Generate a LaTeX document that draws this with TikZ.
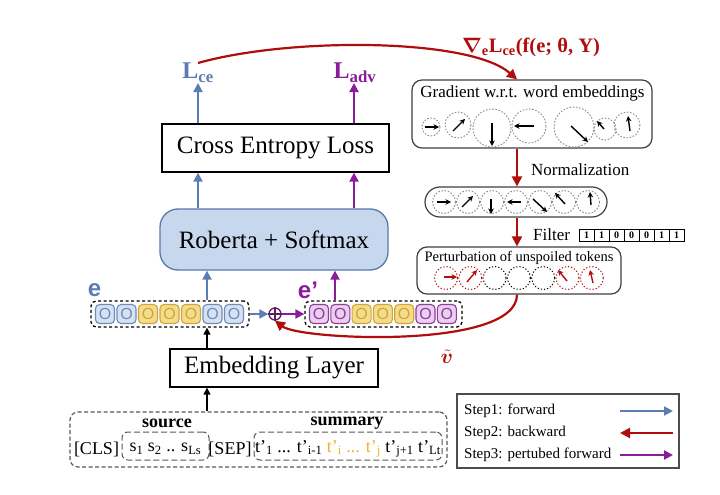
\documentclass[tikz,border=0pt]{standalone}
\usepackage{bm}
\usepackage{fontspec}
\setmainfont{Liberation Serif}
\setsansfont{Liberation Sans}
\usetikzlibrary{arrows.meta,calc}
\definecolor{cblue}{HTML}{5A7DB3}
\definecolor{cpurp}{HTML}{8A1B9B}
\definecolor{cred}{HTML}{B00D0D}
\definecolor{robfill}{HTML}{C7D8EE}
\definecolor{robdraw}{HTML}{5B79A8}
\definecolor{tbfill}{HTML}{D6E2F2}
\definecolor{tbdraw}{HTML}{6F8CB9}
\definecolor{tyfill}{HTML}{F5DC8C}
\definecolor{tydraw}{HTML}{CFA63A}
\definecolor{tpfill}{HTML}{EBCFF0}
\definecolor{tpdraw}{HTML}{8F3E9A}
\definecolor{gold}{HTML}{EBB62C}
\definecolor{opc}{HTML}{5E1B60}
\definecolor{gcirc}{HTML}{8C8C8C}
\newcommand\myfs[1]{\fontsize{#1}{#1}\selectfont}
\newcommand\gradlabel{$\bm{\nabla}$\textsubscript{e}L\textsubscript{ce}(f(e; θ, Y)}
\newcommand\vtlabel{$\tilde{\bm{v}}$}
\begin{document}
\begin{tikzpicture}[x=1pt,y=-1pt,
  lbl/.style={inner sep=0pt},
  plainbox/.style={draw=black, line width=1.3pt, fill=white, inner sep=0pt, font=\myfs{25}},
  robbox/.style={draw=robdraw, line width=1.3pt, fill=robfill, rounded corners=18pt, inner sep=0pt, font=\myfs{25}},
  dbox/.style={draw=black, line width=1.3pt, dash pattern=on 3pt off 2.5pt, rounded corners=5pt, inner sep=0pt},
  tok/.style={rounded corners=4pt, minimum width=19pt, minimum height=19pt, inner sep=0pt, line width=1.1pt, font=\sffamily\myfs{16}},
  tb/.style={tok, draw=tbdraw, fill=tbfill, text=tbdraw},
  ty/.style={tok, draw=tydraw, fill=tyfill, text=tydraw},
  tp/.style={tok, draw=tpdraw, fill=tpfill, text=tpdraw},
  barr/.style={draw=cblue, line width=2pt, -{Triangle[length=9pt,width=9pt]}},
  parr/.style={draw=cpurp, line width=2pt, -{Triangle[length=9pt,width=9pt]}},
  rarr/.style={draw=cred, line width=2.2pt, -{Triangle[length=10pt,width=10pt]}},
  karr/.style={draw=black, line width=1.4pt, -{Triangle[length=7pt,width=7pt]}},
  rbox/.style={draw=black!75, line width=1.2pt, rounded corners=10pt, fill=white, inner sep=0pt},
  gc/.style={draw=gcirc, line width=0.9pt, dash pattern=on 1.6pt off 1.6pt},
  pcr/.style={draw=cred, line width=1pt, dash pattern=on 1.2pt off 2pt},
  pck/.style={draw=black, line width=1pt, dash pattern=on 1.2pt off 2pt},
  sarr/.style={draw=black, line width=1.4pt, -{Stealth[length=5.5pt,width=5.5pt]}},
  rsarr/.style={draw=cred, line width=1.4pt, -{Stealth[length=5.5pt,width=5.5pt]}},
  cell/.style={draw=black, line width=1pt, minimum width=15pt, minimum height=12pt, inner sep=0pt, font=\myfs{10}\bfseries},
  ibox/.style={draw=black!65, line width=1pt, dash pattern=on 6pt off 3pt, rounded corners=6pt, inner sep=0pt},
  txt/.style={inner sep=0pt, font=\myfs{18}}
]
\fill[white] (0,0) rectangle (720,495);
\useasboundingbox (0,0) rectangle (720,495);

% x positions of vertical connectors
\coordinate (xa) at (198,0);
\coordinate (xb) at (354,0);
\coordinate (xc) at (207,0);
\coordinate (xd) at (335,0);
\coordinate (xg) at (517,0);

% ---- left column ----
\node[lbl, text=cblue, font=\myfs{24}\bfseries] (lce) at (198,73) {L\textsubscript{ce}};
\node[lbl, text=cpurp, font=\myfs{24}\bfseries] (ladv) at (355,73) {L\textsubscript{adv}};

\node[plainbox, minimum width=227pt, minimum height=48pt] (cel) at (275.5,148) {Cross Entropy Loss};
\node[robbox, minimum width=228pt, minimum height=61pt] (rob) at (274,239.5) {Roberta + Softmax};
\node[plainbox, minimum width=208pt, minimum height=38pt] (emb) at (274,368) {Embedding Layer};

\draw[barr] (cel.north -| xa) -- (lce.south -| xa);
\draw[parr] (cel.north -| xb) -- (ladv.south -| xb);
\draw[barr] (rob.north -| xa) -- (cel.south -| xa);
\draw[parr] (rob.north -| xb) -- (cel.south -| xb);

% embeddings
\node[dbox, minimum width=158pt, minimum height=26pt] (ebox) at (170,314) {};
\node[dbox, minimum width=157pt, minimum height=26pt] (epbox) at (383.5,314) {};
\foreach \c [count=\i from 0] in {tb,tb,ty,ty,ty,tb,tb}
  \node[\c] (e\i) at ({105+21.5*\i},314) {O};
\foreach \c [count=\i from 0] in {tp,tp,ty,ty,ty,tp,tp}
  \node[\c] (f\i) at ({319+21.3*\i},314) {O};

\node[lbl, text=cblue, font=\sffamily\myfs{24}\bfseries] (elab) at (94.5,290) {e};
\node[lbl, text=cpurp, font=\sffamily\myfs{24}\bfseries] (eplab) at (308,290) {e’};

\node[circle, draw=opc, line width=1.3pt, minimum size=12pt, inner sep=0pt] (op) at (275,314) {};
\draw[opc, line width=1.3pt] (op.north) -- (op.south) (op.west) -- (op.east);
\draw[barr] (ebox.east) -- (op.west);
\draw[parr] (op.east) -- (epbox.west);

\draw[karr] (emb.north -| xc) -- (ebox.south -| xc);
\draw[barr] (ebox.north -| xc) -- (rob.south -| xc);
\draw[parr] (epbox.north -| xd) -- (rob.south -| xd);

% input
\node[draw=black!65, line width=1.2pt, dash pattern=on 4pt off 2.5pt, rounded corners=8pt, minimum width=377pt, minimum height=55pt, inner sep=0pt] (inp) at (258.5,439.5) {};
\draw[karr] (inp.north -| xc) -- (emb.south -| xc);
\node[ibox, minimum width=87pt, minimum height=28pt] (srcb) at (165.5,446) {};
\node[ibox, minimum width=188pt, minimum height=28pt] (sumb) at (348,446) {};
\node[txt, fill=white, inner xsep=1pt] (srclab) at (167,423) {\textbf{source}};
\node[txt, fill=white, inner xsep=1pt] (sumlab) at (347,423) {\textbf{summary}};
\node[txt] (cls) at (96.5,449) {[CLS]};
\node[txt] (srct) at (165.5,449) {s\textsubscript{1} s\textsubscript{2} .. s\textsubscript{Ls}};
\node[txt] (sep) at (230,449) {[SEP]};
\node[txt] (sumt) at (348,449) {t’\textsubscript{1} ... t’\textsubscript{i-1} \textcolor{gold}{t’\textsubscript{i} ... t’\textsubscript{j}} t’\textsubscript{j+1} t’\textsubscript{Lt}};

% ---- right column ----
\node[rbox, minimum width=240pt, minimum height=68pt] (grad) at (532,114) {};
\node[lbl, font=\myfs{17}] (gtitle) at (532.5,93) {Gradient w.r.t. word embeddings};
\foreach \cx/\cy/\r in {431/127/9, 458/125/13, 492/128/19, 529/126/17, 574/127/20, 605/129/11, 627/125/13}
  \draw[gc] (\cx,\cy) circle[radius=\r];
\draw[sarr] (425,127) -- (439,127);
\draw[sarr] (453,131) -- (465,119);
\draw[sarr] (492,123) -- (492,146);
\draw[sarr] (534,126) -- (514,126);
\draw[sarr] (571,126) -- (588,142);
\draw[sarr] (604,129) -- (597,121);
\draw[sarr] (630,131) -- (628,116);

\node[rbox, rounded corners=15pt, minimum width=182pt, minimum height=30pt] (norm) at (516,202) {};
\foreach \i in {0,...,6}
  \draw[gc] ({444+24*\i},202) circle[radius=11.5];
\draw[sarr] (437,202) -- (451,202);
\draw[sarr] (462,207) -- (473,196);
\draw[sarr] (491,199) -- (491,214);
\draw[sarr] (521,202) -- (507,202);
\draw[sarr] (533,199) -- (547,212);
\draw[sarr] (565,204) -- (555,193);
\draw[sarr] (591,205) -- (590,192);
\node[lbl, anchor=west, font=\myfs{17}] (nlab) at (531,170) {Normalization};

\node[rbox, minimum width=204pt, minimum height=47pt] (pert) at (519,270.5) {};
\node[lbl, font=\myfs{14.5}] (ptitle) at (519,258) {Perturbation of unspoiled tokens};
\foreach \i in {0,1,5,6}
  \draw[pcr] ({446+24.3*\i},278) circle[radius=11.5];
\foreach \i in {2,3,4}
  \draw[pck] ({446+24.3*\i},278) circle[radius=11.5];
\draw[rsarr] (444,277) -- (457,277);
\draw[rsarr] (467,282) -- (477,270);
\draw[rsarr] (567,281) -- (558,270);
\draw[rsarr] (593,283) -- (590,270);

\node[lbl, anchor=west, font=\myfs{17}] (flt) at (533,235) {Filter};
\foreach \v [count=\i from 0] in {1,1,0,0,0,1,1}
  \node[cell] (c\i) at ({586.5+15*\i},235) {\v};

\draw[rarr] (grad.south -| xg) -- (norm.north -| xg);
\draw[rarr] (norm.south -| xg) -- (pert.north -| xg);

% gradient arrow
\coordinate (gc1) at (290,37);
\coordinate (gc2) at (470,38);
\draw[rarr] (lce.north) .. controls (gc1) and (gc2) .. (grad.north -| xg);
\node[lbl, text=cred, font=\myfs{20.5}\bfseries] (glab) at (531,47) {\gradlabel};

% perturbation back to oplus
\coordinate (pc1) at (517,350);
\coordinate (pc2) at (300,340);
\draw[rarr] (pert.south -| xg) .. controls (pc1) and (pc2) .. (op.south);
\node[lbl, text=cred, font=\myfs{22}] (vlab) at (447,357) {\vtlabel};

% legend
\node[draw=black!70, line width=1.2pt, minimum width=222pt, minimum height=74pt, inner sep=0pt] (leg) at (568,431) {};
\node[lbl, anchor=west, font=\myfs{15}] (l1) at (464,411) {Step1: forward};
\node[lbl, anchor=west, font=\myfs{15}] (l2) at (464,433) {Step2: backward};
\node[lbl, anchor=west, font=\myfs{15}] (l3) at (464,455) {Step3: pertubed forward};
\coordinate (l1a) at (620,411); \coordinate (l1b) at (673,411);
\coordinate (l2a) at (620,433); \coordinate (l2b) at (673,433);
\coordinate (l3a) at (620,455); \coordinate (l3b) at (673,455);
\draw[barr] (l1a) -- (l1b);
\draw[rarr] (l2b) -- (l2a);
\draw[parr] (l3a) -- (l3b);
\end{tikzpicture}
\end{document}
